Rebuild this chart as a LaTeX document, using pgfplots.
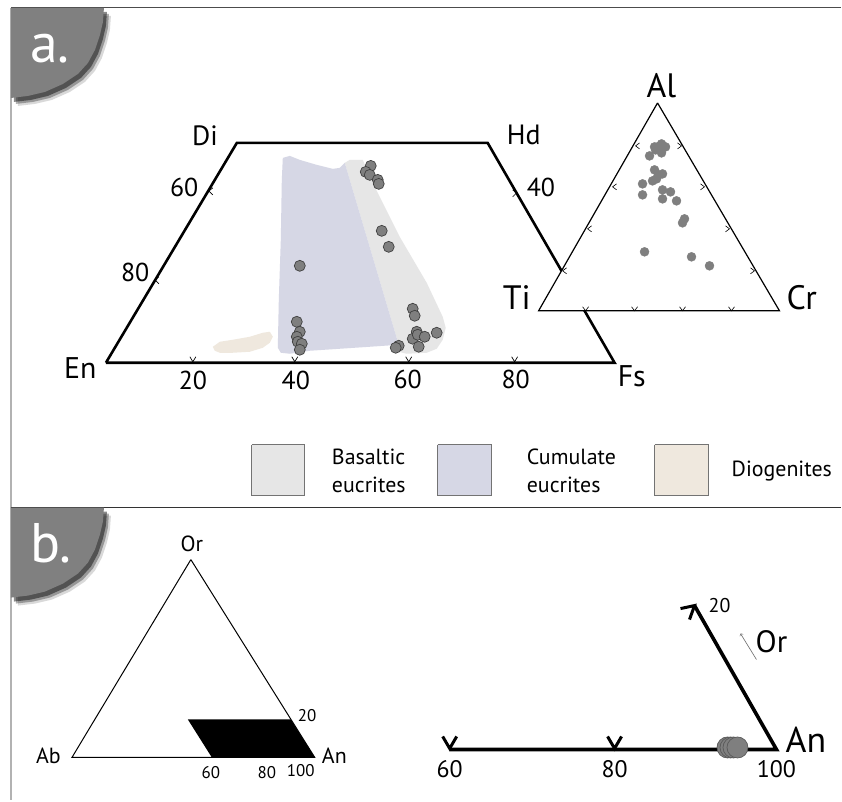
\documentclass[border=0pt]{standalone}
\usepackage{fontspec}
\setmainfont{PT Sans}
\usepackage{pgfplots}
\pgfplotsset{compat=1.18}
\usepackage{pgfplotstable}

\definecolor{basalt}{HTML}{E6E6E6}
\definecolor{cumul}{HTML}{D6D7E5}
\definecolor{diog}{HTML}{EFE8DE}
\definecolor{dotgray}{HTML}{7F7F7F}
\definecolor{badgegray}{HTML}{808080}

% badge outline, pixel coordinates (y down)
\pgfplotstableread{
x y
11 8
104 8
103 22
100 35
95 50
88 63
78 74
63 84
45 92
28 96
11 98
}\badge

\begin{document}
\begin{tikzpicture}
\begin{axis}[
  width=842bp, height=801bp, scale only axis,
  xmin=0, xmax=842, ymin=0, ymax=801, y dir=reverse,
  hide axis, clip=false,
  unbounded coords=jump,
]
% background
\addplot[draw=none, fill=white] coordinates {(0,0) (842,0) (842,801) (0,801)};

% frame
\addplot[color=black!70, line width=1bp] coordinates {(11,8) (842,8)};
\addplot[color=black!30, line width=1.5bp] coordinates {(11,8) (11,801)};
\addplot[color=black!80, line width=1.2bp] coordinates {(11,508) (842,508)};

% badges with shadow
\addplot[draw=none, fill=black, opacity=.15, xshift=7bp, yshift=-8bp] table {\badge};
\addplot[draw=none, fill=black, opacity=.3, xshift=5bp, yshift=-6bp] table {\badge};
\addplot[draw=none, fill=black, opacity=.45, xshift=3bp, yshift=-4bp] table {\badge};
\addplot[draw=none, fill=badgegray] table {\badge};
\addplot[draw=none, fill=black, opacity=.15, xshift=7bp, yshift=-8bp] table[y expr=\thisrow{y}+500] {\badge};
\addplot[draw=none, fill=black, opacity=.3, xshift=5bp, yshift=-6bp] table[y expr=\thisrow{y}+500] {\badge};
\addplot[draw=none, fill=black, opacity=.45, xshift=3bp, yshift=-4bp] table[y expr=\thisrow{y}+500] {\badge};
\addplot[draw=none, fill=badgegray] table[y expr=\thisrow{y}+500] {\badge};
\node[anchor=base west, inner sep=0, text=white, font=\fontsize{56}{56}\selectfont] at (axis cs:30,63) {a.};
\node[anchor=base west, inner sep=0, text=white, font=\fontsize{56}{56}\selectfont] at (axis cs:30,563) {b.};

% ---- panel a: fields ----
\addplot[draw=none, fill=basalt] coordinates {
 (345,163) (350,160) (363,160) (373,183) (400,237) (427,283) (443,317) (446,328)
 (443,340) (437,349) (427,353) (407,354) (399,352) (399,345)};
\addplot[draw=none, fill=cumul] coordinates {
 (283,158) (290,156) (300,160) (317,165) (333,169) (340,168) (345,163)
 (399,345) (370,347) (340,349) (310,351) (290,354) (281,353) (278,348)
 (279,300) (281,240) (282,180)};
\addplot[draw=none, fill=diog] coordinates {
 (213,347) (220,342) (233,340) (250,337) (263,333) (270,332) (273,337) (270,343)
 (263,348) (250,352) (233,353) (220,353) (215,351)};

% pyroxene quadrilateral
\addplot[black, line width=2.6bp] coordinates {(106,363) (237,143) (488,143) (615,363) (106,363)};
\addplot[black, line width=0.7bp] coordinates {
 (190,357) (193,362) (196,357) (nan,nan)
 (292,357) (295,362) (298,357) (nan,nan)
 (406,357) (409,362) (412,357) (nan,nan)
 (512,357) (515,362) (518,357) (nan,nan)
 (213,188) (209,191) (213,195) (nan,nan)
 (159,277) (155,280) (159,284) (nan,nan)
 (513,190) (517,193) (513,197)};

% pyroxene analyses
\addplot[only marks, mark=*, mark size=5.5bp, mark options={fill=dotgray, draw=black!75, line width=0.7bp}] coordinates {
 (371,166) (366,172) (370,175) (378,180) (379,184)
 (382,231) (389,247) (300,266)
 (413,309) (415,316)
 (297,322) (300,332) (297,337) (298,342) (302,344) (300,350)
 (417,332) (413,339) (418,335) (425,337) (437,333) (419,347)
 (399,346) (396,348)};

% Al-Ti-Cr ternary
\addplot[draw=black, fill=white, line width=1.2bp] coordinates {(658,103) (539,311) (780,311) (658,103)};
\addplot[black, line width=0.6bp] coordinates {
 (640,143) (636,146) (640,149) (nan,nan)
 (617,184) (613,187) (617,190) (nan,nan)
 (592,226) (588,229) (592,232) (nan,nan)
 (567,268) (563,271) (567,274) (nan,nan)
 (678,143) (682,146) (678,149) (nan,nan)
 (701,184) (705,187) (701,190) (nan,nan)
 (726,226) (730,229) (726,232) (nan,nan)
 (751,268) (755,271) (751,274) (nan,nan)
 (583,307) (586,311) (589,307) (nan,nan)
 (632,307) (635,311) (638,307) (nan,nan)
 (680,307) (683,311) (686,307) (nan,nan)
 (729,307) (732,311) (735,307)};
\addplot[only marks, color=dotgray, mark=*, mark size=4.5bp, mark options={fill=dotgray, draw=dotgray}] coordinates {
 (655,147) (662,144) (666,147) (658,147) (662,153) (650,156) (656,150)
 (655,170) (659,175) (663,174) (653,181) (657,179) (643,184) (643,195)
 (663,190) (671,192) (663,199) (677,201) (685,219) (683,223)
 (645,252) (692,257) (710,266)};

% panel a labels
\node[anchor=base west, inner sep=0, font=\fontsize{28}{28}\selectfont] at (axis cs:192,146) {Di};
\node[anchor=base west, inner sep=0, font=\fontsize{28}{28}\selectfont] at (axis cs:507,145) {Hd};
\node[anchor=base west, inner sep=0, font=\fontsize{30}{30}\selectfont] at (axis cs:64,379) {En};
\node[anchor=base west, inner sep=0, font=\fontsize{30}{30}\selectfont] at (axis cs:618,387) {Fs};
\node[anchor=base west, inner sep=0, font=\fontsize{26}{26}\selectfont] at (axis cs:170,197) {60};
\node[anchor=base west, inner sep=0, font=\fontsize{26}{26}\selectfont] at (axis cs:121,282) {80};
\node[anchor=base west, inner sep=0, font=\fontsize{26}{26}\selectfont] at (axis cs:527,197) {40};
\node[anchor=base, inner sep=0, font=\fontsize{26}{26}\selectfont] at (axis cs:193,390) {20};
\node[anchor=base, inner sep=0, font=\fontsize{26}{26}\selectfont] at (axis cs:296,390) {40};
\node[anchor=base, inner sep=0, font=\fontsize{26}{26}\selectfont] at (axis cs:408,389) {60};
\node[anchor=base, inner sep=0, font=\fontsize{26}{26}\selectfont] at (axis cs:516,389) {80};
\node[anchor=base, inner sep=0, font=\fontsize{34}{34}\selectfont] at (axis cs:662,98) {Al};
\node[anchor=base west, inner sep=0, font=\fontsize{34}{34}\selectfont] at (axis cs:503,310) {Ti};
\node[anchor=base west, inner sep=0, font=\fontsize{34}{34}\selectfont] at (axis cs:787,310) {Cr};

% legend
\addplot[draw=black!55, fill=basalt, line width=0.8bp] coordinates {(252,445) (305,445) (305,496) (252,496) (252,445)};
\addplot[draw=black!55, fill=cumul, line width=0.8bp] coordinates {(438,445) (492,445) (492,496) (438,496) (438,445)};
\addplot[draw=black!55, fill=diog, line width=0.8bp] coordinates {(655,445) (709,445) (709,496) (655,496) (655,445)};
\node[anchor=base west, inner sep=0, font=\fontsize{22}{22}\selectfont] at (axis cs:332,465) {Basaltic};
\node[anchor=base west, inner sep=0, font=\fontsize{22}{22}\selectfont] at (axis cs:332,493) {eucrites};
\node[anchor=base west, inner sep=0, font=\fontsize{22}{22}\selectfont] at (axis cs:527,465) {Cumulate};
\node[anchor=base west, inner sep=0, font=\fontsize{22}{22}\selectfont] at (axis cs:527,493) {eucrites};
\node[anchor=base west, inner sep=0, font=\fontsize{22}{22}\selectfont] at (axis cs:732,477) {Diogenites};

% ---- panel b: Or-Ab-An ternary ----
\addplot[draw=black, line width=1bp] coordinates {(191,560) (72,758) (315,758) (191,560)};
\addplot[draw=none, fill=black] coordinates {(188,720) (291,720) (315,758) (212,758)};
\node[anchor=base, inner sep=0, font=\fontsize{22}{22}\selectfont] at (axis cs:192,552) {Or};
\node[anchor=base west, inner sep=0, font=\fontsize{22}{22}\selectfont] at (axis cs:36,764) {Ab};
\node[anchor=base west, inner sep=0, font=\fontsize{22}{22}\selectfont] at (axis cs:322,764) {An};
\node[anchor=base west, inner sep=0, font=\fontsize{17}{17}\selectfont] at (axis cs:298,722) {20};
\node[anchor=base, inner sep=0, font=\fontsize{17}{17}\selectfont] at (axis cs:211,779) {60};
\node[anchor=base, inner sep=0, font=\fontsize{17}{17}\selectfont] at (axis cs:267,779) {80};
\node[anchor=base, inner sep=0, font=\fontsize{17}{17}\selectfont] at (axis cs:301,777) {100};

% enlarged An corner
\addplot[black, line width=3.6bp] coordinates {(450,750) (777,750) (695,606)};
\addplot[black, line width=3bp] coordinates {
 (443,737) (450,749) (457,737) (nan,nan)
 (608,737) (615,749) (622,737) (nan,nan)
 (681,609) (695,606) (690,620)};
\addplot[color=black!60, line width=0.6bp, ->] coordinates {(757,660) (741,634)};
\addplot[only marks, mark=*, mark size=10.5bp, mark options={fill=dotgray, draw=black!65, line width=0.7bp}] coordinates {
 (728,748) (731,748) (734,748) (738,748)};
\node[anchor=base, inner sep=0, font=\fontsize{24}{24}\selectfont] at (axis cs:450,778) {60};
\node[anchor=base, inner sep=0, font=\fontsize{24}{24}\selectfont] at (axis cs:615,778) {80};
\node[anchor=base, inner sep=0, font=\fontsize{24}{24}\selectfont] at (axis cs:777,778) {100};
\node[anchor=base west, inner sep=0, font=\fontsize{36}{36}\selectfont] at (axis cs:786,753) {An};
\node[anchor=base west, inner sep=0, font=\fontsize{31}{31}\selectfont] at (axis cs:756,653) {Or};
\node[anchor=base west, inner sep=0, font=\fontsize{20}{20}\selectfont] at (axis cs:709,613) {20};
\end{axis}
\end{tikzpicture}
\end{document}
